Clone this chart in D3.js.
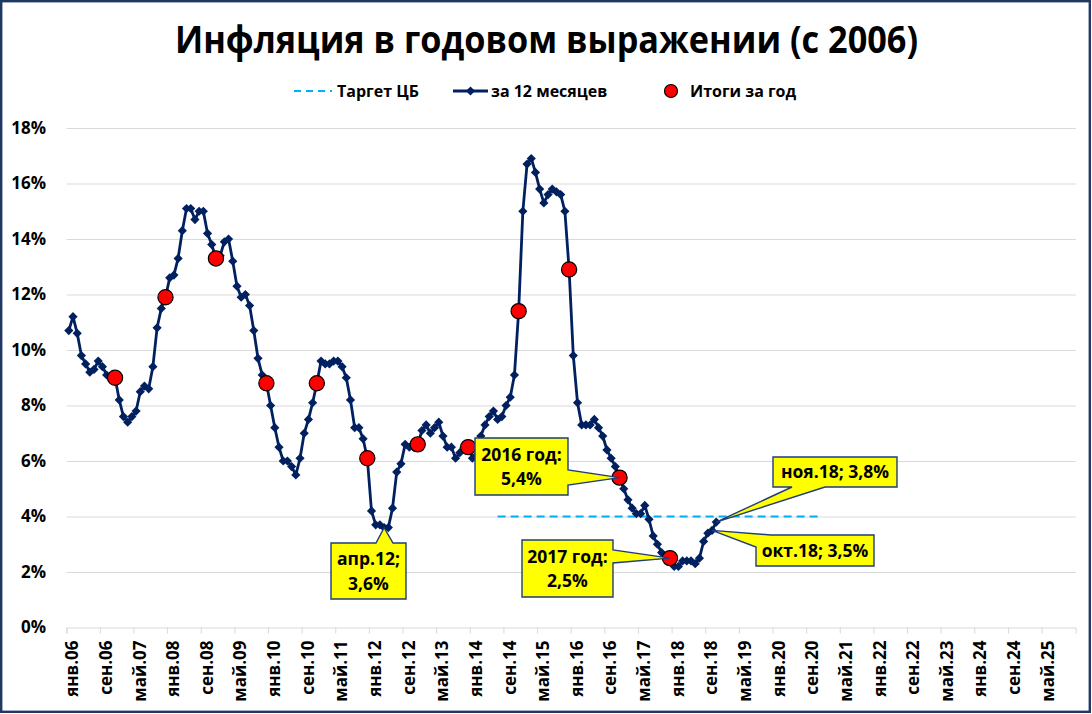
<!DOCTYPE html>
<html><head><meta charset="utf-8">
<script src="https://cdn.jsdelivr.net/npm/d3@7"></script>
<style>
body{margin:0;background:#fff}
svg{display:block}
text{font-family:"Open Sans",sans-serif;font-weight:700;fill:#000}
</style>
</head><body>
<svg id="c" width="1092" height="714"></svg>
<script>
// ---------- DATA ----------
const title = "Инфляция в годовом выражении (с 2006)";
const monthNames = ["янв","фев","мар","апр","май","июн","июл","авг","сен","окт","ноя","дек"];
const years = [2006,2007,2008,2009,2010,2011,2012,2013,2014,2015,2016,2017,2018,2019,2020,2021,2022,2023,2024,2025];

const infl2006 = [10.7,11.2,10.6,9.8,9.5,9.2,9.3,9.6,9.4,9.1,9.0,9.0];
const infl2007 = [8.2,7.6,7.4,7.6,7.8,8.5,8.7,8.6,9.4,10.8,11.5,11.9];
const infl2008 = [12.6,12.7,13.3,14.3,15.1,15.1,14.7,15.0,15.0,14.2,13.8,13.3];
const infl2009 = [13.4,13.9,14.0,13.2,12.3,11.9,12.0,11.6,10.7,9.7,9.1,8.8];
const infl2010 = [8.0,7.2,6.5,6.0,6.0,5.8,5.5,6.1,7.0,7.5,8.1,8.8];
const infl2011 = [9.6,9.5,9.5,9.6,9.6,9.4,9.0,8.2,7.2,7.2,6.8,6.1];
const infl2012 = [4.2,3.7,3.7,3.6,3.6,4.3,5.6,5.9,6.6,6.5,6.5,6.6];
const infl2013 = [7.1,7.3,7.0,7.2,7.4,6.9,6.5,6.5,6.1,6.3,6.5,6.5];
const infl2014 = [6.1,6.2,6.9,7.3,7.6,7.8,7.5,7.6,8.0,8.3,9.1,11.4];
const infl2015 = [15.0,16.7,16.9,16.4,15.8,15.3,15.6,15.8,15.7,15.6,15.0,12.9];
const infl2016 = [9.8,8.1,7.3,7.3,7.3,7.5,7.2,6.9,6.4,6.1,5.8,5.4];
const infl2017 = [5.0,4.6,4.3,4.1,4.1,4.4,3.9,3.3,3.0,2.7,2.5,2.5];
const infl2018 = [2.2,2.2,2.4,2.4,2.4,2.3,2.5,3.1,3.4,3.5,3.8];

const annualLabels = ["дек.06","дек.07","дек.08","дек.09","дек.10","дек.11","дек.12","дек.13","дек.14","дек.15","дек.16","дек.17"];
const annualTotals = [9.0,11.9,13.3,8.8,8.8,6.1,6.6,6.5,11.4,12.9,5.4,2.5];

const targetCats = ["июл.14","дек.20"];
const targetValues = [4,4];

const yTicks = [0,2,4,6,8,10,12,14,16,18];
const tickLabels = ["янв.06","сен.06","май.07","янв.08","сен.08","май.09","янв.10","сен.10","май.11","янв.12",
  "сен.12","май.13","янв.14","сен.14","май.15","янв.16","сен.16","май.17","янв.18","сен.18",
  "май.19","янв.20","сен.20","май.21","янв.22","сен.22","май.23","янв.24","сен.24","май.25"];
const legendLabels = ["Таргет ЦБ","за 12 месяцев","Итоги за год"];

const calloutTexts = [["апр.12;","3,6%"],["2016 год:","5,4%"],["2017 год:","2,5%"],["ноя.18; 3,8%"],["окт.18; 3,5%"]];
const calloutCats = ["апр.12","дек.16","дек.17","ноя.18","окт.18"];
const calloutValues = [3.6,5.4,2.5,3.8,3.5];

// ---------- LAYOUT ----------
const W = 1092, H = 714;
const X0 = 66.7, X1 = 1075.7, Y0 = 627.5, Y1 = 128;
const navy = "#002060";
const calloutBoxes = [
  {x:331,y:543,w:75,h:56, side:"top", a:45, b:62},
  {x:475,y:438,w:93,h:57, side:"right", a:32, b:47},
  {x:522,y:540,w:91,h:57, side:"right", a:10, b:23},
  {x:773,y:457,w:124,h:30, side:"bottom", a:19, b:52},
  {x:756,y:535,w:118,h:31, side:"corner", a:15, b:12}
];

const categories = years.flatMap(yr => monthNames.map(m => m + "." + String(yr).slice(2)));
const monthly = [].concat(infl2006,infl2007,infl2008,infl2009,infl2010,infl2011,infl2012,infl2013,infl2014,infl2015,infl2016,infl2017,infl2018)
  .map((v,i) => ({cat: categories[i], v}));

const svg = d3.select("#c");
const x = d3.scaleBand().domain(categories).range([X0, X1]).padding(0);
const bw = x.bandwidth();
const cx = c => x(c) + bw/2;
const y = d3.scaleLinear().domain([0,18]).range([Y0, Y1]);

svg.append("rect").attr("x",0).attr("y",0).attr("width",W).attr("height",H).attr("fill","#fff");

// title
svg.append("text").attr("x", 546.5).attr("y", 53).attr("text-anchor","middle")
  .attr("font-size", 37).attr("textLength", 743).attr("lengthAdjust","spacingAndGlyphs").text(title);

// gridlines
svg.append("g").attr("transform",`translate(${X0},0)`)
  .call(d3.axisLeft(y).tickValues(yTicks.filter(d=>d>0)).tickSize(-(X1-X0)).tickFormat(""))
  .call(g => g.select(".domain").remove())
  .call(g => g.selectAll("line").attr("stroke","#d9d9d9").attr("stroke-width",1));

// y labels
svg.append("g").attr("transform",`translate(50,0)`)
  .call(d3.axisLeft(y).tickValues(yTicks).tickSize(0).tickPadding(4).tickFormat(d => d + "%"))
  .call(g => g.select(".domain").remove())
  .call(g => g.selectAll("text").attr("font-size",17).attr("font-family","'Open Sans',sans-serif").attr("font-weight",700).attr("fill","#000"));

// x axis
const xa = svg.append("g").attr("transform",`translate(0,${Y0})`)
  .call(d3.axisBottom(x).tickValues(tickLabels).tickSize(6).tickSizeOuter(6).tickFormat(d=>d));
xa.select(".domain").attr("stroke","#d9d9d9");
xa.selectAll(".tick line").attr("stroke","#d9d9d9").attr("x1",-bw/2).attr("x2",-bw/2);
xa.selectAll(".tick text").attr("x",0).attr("y",0).attr("dy","0.36em")
  .attr("text-anchor","end").attr("transform",`translate(${-bw/2+5.5},13) rotate(-90)`)
  .attr("font-size",17).attr("font-family","'Open Sans',sans-serif").attr("font-weight",700).attr("fill","#000");

// target line
svg.append("path").datum(targetCats.map((c,i)=>({cat:c, v:targetValues[i]})))
  .attr("fill","none").attr("stroke","#00b0f0").attr("stroke-width",2.2).attr("stroke-dasharray","8,5")
  .attr("d", d3.line().x(d=>cx(d.cat)).y(d=>y(d.v)));

// main line
svg.append("path").datum(monthly).attr("fill","none").attr("stroke",navy).attr("stroke-width",2.8)
  .attr("stroke-linejoin","round")
  .attr("d", d3.line().x(d=>cx(d.cat)).y(d=>y(d.v)));
const diamond = "M0,-4.6L4.6,0L0,4.6L-4.6,0Z";
svg.append("g").selectAll("path").data(monthly).join("path")
  .attr("d", diamond).attr("fill",navy)
  .attr("transform", d => `translate(${cx(d.cat)},${y(d.v)})`);

// annual dots
svg.append("g").selectAll("circle").data(annualLabels.map((c,i)=>({cat:c, v:annualTotals[i]}))).join("circle")
  .attr("cx", d=>cx(d.cat)).attr("cy", d=>y(d.v)).attr("r",7.6)
  .attr("fill","#ff0000").attr("stroke","#000").attr("stroke-width",1.2);

// callouts
function calloutPoints(b, tip){
  const {x:bx,y:by,w,h} = b;
  const TL=[bx,by], TR=[bx+w,by], BR=[bx+w,by+h], BL=[bx,by+h];
  if (b.side==="top") return [TL,[bx+b.a,by],tip,[bx+b.b,by],TR,BR,BL];
  if (b.side==="right") return [TL,TR,[bx+w,by+b.a],tip,[bx+w,by+b.b],BR,BL];
  if (b.side==="bottom") return [TL,TR,BR,[bx+b.b,by+h],tip,[bx+b.a,by+h],BL];
  return [[bx+b.a,by],TR,BR,BL,[bx,by+b.b],tip];
}
calloutTexts.forEach((lines,i) => {
  const b = calloutBoxes[i];
  const tip = [cx(calloutCats[i]), y(calloutValues[i])];
  const pts = calloutPoints(b, tip);
  svg.append("path").attr("d", "M" + pts.map(p=>p.join(",")).join("L") + "Z")
    .attr("fill","#ffff00").attr("stroke","#1f3d7a").attr("stroke-width",1.4).attr("stroke-linejoin","miter");
  const n = lines.length;
  const lh = 24.5;
  lines.forEach((t,j) => {
    svg.append("text").attr("x", b.x + b.w/2).attr("y", b.y + b.h/2 + (j - (n-1)/2)*lh)
      .attr("dy","0.36em").attr("text-anchor","middle").attr("font-size",17.5).text(t);
  });
});

// legend
const ly = 91;
const lg = svg.append("g");
lg.append("line").attr("x1",294).attr("x2",332).attr("y1",ly).attr("y2",ly)
  .attr("stroke","#00b0f0").attr("stroke-width",2.2).attr("stroke-dasharray","7,5");
lg.append("text").attr("x",337).attr("y",ly).attr("dy","0.36em").attr("font-size",16).text(legendLabels[0]);
lg.append("line").attr("x1",453).attr("x2",488).attr("y1",ly).attr("y2",ly).attr("stroke",navy).attr("stroke-width",2.8);
lg.append("path").attr("d",diamond).attr("fill",navy).attr("transform",`translate(470.5,${ly})`);
lg.append("text").attr("x",491).attr("y",ly).attr("dy","0.36em").attr("font-size",16).text(legendLabels[1]);
lg.append("circle").attr("cx",671).attr("cy",ly).attr("r",6.5).attr("fill","#ff0000").attr("stroke","#000").attr("stroke-width",1.2);
lg.append("text").attr("x",690).attr("y",ly).attr("dy","0.36em").attr("font-size",16).text(legendLabels[2]);

// border
svg.append("rect").attr("x",1.2).attr("y",1.2).attr("width",1088.6).attr("height",710.6)
  .attr("fill","none").attr("stroke","#1f3864").attr("stroke-width",2.4);
</script>
</body></html>
